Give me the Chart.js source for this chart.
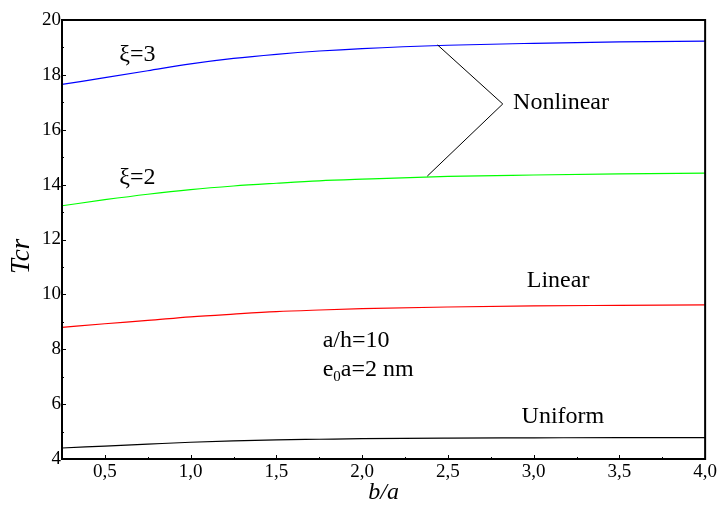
<!DOCTYPE html>
<html>
<head>
<meta charset="utf-8">
<script src="https://cdn.jsdelivr.net/npm/chart.js@4"></script>
<style>
  body { margin: 0; background: #fff; }
  #wrap { width: 719px; height: 507px; }
</style>
</head>
<body>
<div id="wrap"><canvas id="chart" width="719" height="507"></canvas></div>
<script>
// b/a values
const ratios = [0.25, 0.5, 0.75, 1.0, 1.25, 1.5, 1.75, 2.0, 2.5, 3.0, 3.5, 4.0];
// critical temperature for each loading case
const nonlinearXi3 = [17.65, 17.9, 18.15, 18.4, 18.6, 18.75, 18.87, 18.96, 19.08, 19.15, 19.2, 19.23];
const nonlinearXi2 = [13.23, 13.45, 13.65, 13.82, 13.95, 14.05, 14.14, 14.2, 14.3, 14.35, 14.39, 14.42];
const linear = [8.8, 8.93, 9.05, 9.18, 9.28, 9.37, 9.43, 9.48, 9.54, 9.58, 9.6, 9.62];
const uniform = [4.4, 4.47, 4.54, 4.61, 4.66, 4.7, 4.72, 4.74, 4.76, 4.77, 4.78, 4.78];

const xTicks = [0.5, 1.0, 1.5, 2.0, 2.5, 3.0, 3.5, 4.0];
const yTicks = [4, 6, 8, 10, 12, 14, 16, 18, 20];
const xMinor = [0.25, 0.75, 1.25, 1.75, 2.25, 2.75, 3.25, 3.75];
const yMinor = [5, 7, 9, 11, 13, 15, 17, 19];

// text labels placed in data coordinates
const notes = [
    { text: 'ξ=3', x: 0.69, y: 18.72, align: 'center' },
    { text: 'ξ=2', x: 0.69, y: 14.24, align: 'center' },
    { text: 'Nonlinear', x: 2.88, y: 16.97, align: 'left' },
    { text: 'Linear', x: 2.96, y: 10.49, align: 'left' },
    { text: 'a/h=10', x: 1.77, y: 8.30, align: 'left' },
    { text: 'Uniform', x: 2.93, y: 5.53, align: 'left' }
];
// bracket pointing to the two nonlinear curves
const bracketX = [2.44, 2.82, 2.38];
const bracketY = [19.09, 16.94, 14.31];

const serif = '"Liberation Serif", "Times New Roman", serif';

function toPoints(ys) {
    return ys.map((y, i) => ({ x: ratios[i], y: y }));
}

function line(data, color) {
    return {
        data: toPoints(data),
        borderColor: color,
        borderWidth: 1.2,
        pointRadius: 0,
        fill: false,
        cubicInterpolationMode: 'monotone'
    };
}

const frameAndNotes = {
    id: 'frameAndNotes',
    afterDatasetsDraw(chart) {
        const ctx = chart.ctx;
        const a = chart.chartArea;
        const xs = chart.scales.x, ys = chart.scales.y;
        ctx.save();
        // frame
        ctx.strokeStyle = '#000';
        ctx.lineWidth = 2;
        ctx.strokeRect(a.left, a.top, a.right - a.left, a.bottom - a.top);
        // small inward ticks
        ctx.lineWidth = 1;
        ctx.beginPath();
        xTicks.concat(xMinor).forEach((v, i) => {
            const px = Math.round(xs.getPixelForValue(v)) + 0.5;
            const len = i < xTicks.length ? 4 : 2;
            ctx.moveTo(px, a.bottom); ctx.lineTo(px, a.bottom - len);
        });
        yTicks.concat(yMinor).forEach((v, i) => {
            const py = Math.round(ys.getPixelForValue(v)) + 0.5;
            const len = i < yTicks.length ? 4 : 2;
            ctx.moveTo(a.left, py); ctx.lineTo(a.left + len, py);
        });
        ctx.stroke();

        // bracket
        ctx.beginPath();
        bracketX.forEach((v, i) => {
            const px = xs.getPixelForValue(v), py = ys.getPixelForValue(bracketY[i]);
            if (i === 0) ctx.moveTo(px, py); else ctx.lineTo(px, py);
        });
        ctx.stroke();

        // labels
        ctx.fillStyle = '#000';
        ctx.font = '24px ' + serif;
        ctx.textBaseline = 'middle';
        notes.forEach(n => {
            ctx.textAlign = n.align;
            ctx.fillText(n.text, xs.getPixelForValue(n.x), ys.getPixelForValue(n.y));
        });

        // e0a=2 nm with subscript
        let px = xs.getPixelForValue(1.77);
        const py = ys.getPixelForValue(7.24);
        ctx.textAlign = 'left';
        ctx.fillText('e', px, py);
        px += ctx.measureText('e').width;
        ctx.font = '15px ' + serif;
        ctx.fillText('0', px, py + 7);
        px += ctx.measureText('0').width;
        ctx.font = '24px ' + serif;
        ctx.fillText('a=2 nm', px, py);
        ctx.restore();
    }
};

new Chart(document.getElementById('chart'), {
    type: 'line',
    data: {
        datasets: [
            line(nonlinearXi3, '#0000ff'),
            line(nonlinearXi2, '#00ff00'),
            line(linear, '#ff0000'),
            line(uniform, '#000000')
        ]
    },
    options: {
        responsive: false,
        animation: false,
        layout: { padding: { top: 20, right: 13, left: 0, bottom: 0 } },
        plugins: { legend: { display: false }, tooltip: { enabled: false } },
        scales: {
            x: {
                type: 'linear',
                min: 0.25,
                max: 4.0,
                afterBuildTicks(s) { s.ticks = xTicks.map(v => ({ value: v })); },
                afterFit(s) { s.height = 48; },
                grid: { display: false, drawTicks: false },
                border: { display: false },
                ticks: {
                    color: '#000',
                    padding: 2,
                    maxRotation: 0,
                    font: { family: serif, size: 19 },
                    callback: v => v.toFixed(1).replace('.', ',')
                },
                title: {
                    display: true,
                    text: 'b/a',
                    color: '#000',
                    padding: { top: 0, bottom: 0 },
                    font: { family: serif, size: 24, style: 'italic' }
                }
            },
            y: {
                min: 4,
                max: 20,
                afterBuildTicks(s) { s.ticks = yTicks.map(v => ({ value: v })); },
                afterFit(s) { s.width = 62; },
                grid: { display: false, drawTicks: false },
                border: { display: false },
                ticks: {
                    color: '#000',
                    padding: 1,
                    font: { family: serif, size: 19 }
                },
                title: {
                    display: true,
                    // trailing spaces push the rotated label a little below centre
                    text: 'Tcr     ',
                    color: '#000',
                    padding: { top: 6, bottom: 0 },
                    font: { family: serif, size: 27, style: 'italic' }
                }
            }
        }
    },
    plugins: [frameAndNotes]
});
</script>
</body>
</html>
